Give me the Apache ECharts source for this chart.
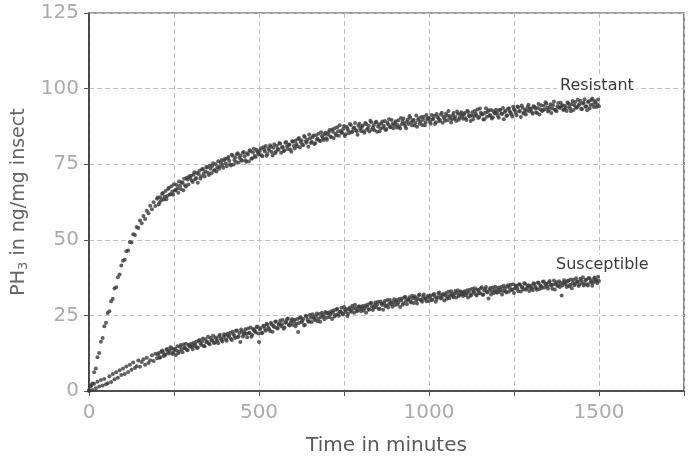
<!DOCTYPE html>
<html>
<head>
<meta charset="utf-8">
<script src="https://cdn.jsdelivr.net/npm/echarts@6/dist/echarts.min.js"></script>
<style>html,body{margin:0;padding:0;background:#fff}#c{width:694px;height:461px}</style>
</head>
<body>
<div id="c"></div>
<script>
// Sampling times (minutes), first pass
const times = [
0,5,10,15,20,25,30,35,40,45,50,55,60,65,70,75,80,85,90,95,
100,105,110,115,120,125,130,135,140,145,150,155,160,165,170,175,180,185,190,195,
200,205,210,215,220,225,230,235,240,245,250,255,260,265,270,275,280,285,290,295,
300,305,310,315,320,325,330,335,340,345,350,355,360,365,370,375,380,385,390,395,
400,405,410,415,420,425,430,435,440,445,450,455,460,465,470,475,480,485,490,495,
500,505,510,515,520,525,530,535,540,545,550,555,560,565,570,575,580,585,590,595,
600,605,610,615,620,625,630,635,640,645,650,655,660,665,670,675,680,685,690,695,
700,705,710,715,720,725,730,735,740,745,750,755,760,765,770,775,780,785,790,795,
800,805,810,815,820,825,830,835,840,845,850,855,860,865,870,875,880,885,890,895,
900,905,910,915,920,925,930,935,940,945,950,955,960,965,970,975,980,985,990,995,
1000,1005,1010,1015,1020,1025,1030,1035,1040,1045,1050,1055,1060,1065,1070,1075,1080,1085,1090,1095,
1100,1105,1110,1115,1120,1125,1130,1135,1140,1145,1150,1155,1160,1165,1170,1175,1180,1185,1190,1195,
1200,1205,1210,1215,1220,1225,1230,1235,1240,1245,1250,1255,1260,1265,1270,1275,1280,1285,1290,1295,
1300,1305,1310,1315,1320,1325,1330,1335,1340,1345,1350,1355,1360,1365,1370,1375,1380,1385,1390,1395,
1400,1405,1410,1415,1420,1425,1430,1435,1440,1445,1450,1455,1460,1465,1470,1475,1480,1485,1490,1495,
1500
];
const resistant = [
0.3,1.8,2.5,6.2,7.4,11.2,12.6,16.3,17.5,21.4,22.6,25.8,26.4,29.7,30.5,33.9,34.3,37.6,38.5,41.5,
43.1,43.4,46.2,46.5,49.3,49.1,51.8,51.6,54.2,53.9,56.4,55.5,57.9,56.9,59.6,58.8,61.3,60.1,62.4,61.2,
63.6,61.7,64.1,65.2,63.3,66.1,64.5,67.2,65.1,66.0,68.4,66.5,67.0,69.3,66.8,68.9,70.2,67.6,69.9,71.0,
71.2,69.1,72.3,70.4,68.9,72.8,71.0,73.4,70.9,74.1,72.2,74.6,72.0,75.3,73.1,72.6,76.0,74.2,76.4,73.8,
76.8,74.3,77.4,75.0,78.1,74.9,77.2,78.3,75.6,77.9,76.1,79.0,76.3,78.6,75.9,79.3,77.0,80.1,77.4,79.2,
78.2,80.3,77.6,79.9,81.0,78.4,79.5,80.8,77.9,81.6,79.2,80.1,82.0,78.8,80.7,79.6,82.3,80.0,81.4,79.1,
82.4,80.2,81.7,83.3,80.6,82.9,81.3,84.0,82.1,80.8,83.6,82.4,84.5,81.9,83.2,85.1,82.7,84.3,83.0,85.4,
83.1,85.6,84.2,86.5,83.7,85.1,87.2,84.4,86.0,85.3,87.6,84.9,86.8,85.2,88.0,85.8,87.1,86.3,84.7,88.4,
86.0,87.8,85.4,88.3,86.9,85.8,88.9,87.1,86.2,89.0,87.5,85.9,88.4,87.0,89.3,86.6,88.1,87.4,89.6,86.9,
88.7,87.1,89.5,86.8,88.2,90.1,87.6,89.0,88.3,90.4,87.9,89.7,88.6,87.4,90.2,89.1,88.0,90.7,88.8,89.9,
90.3,88.4,89.8,91.0,88.9,90.6,89.2,91.4,88.7,90.1,91.8,89.5,90.9,88.8,91.2,90.0,89.3,91.7,90.4,92.2,
90.0,91.9,89.6,92.3,90.8,91.2,89.9,92.6,91.0,90.3,93.4,91.5,89.8,92.0,90.7,92.8,91.3,90.1,92.5,91.8,
92.1,90.4,93.0,91.6,89.9,92.7,91.2,93.5,92.0,90.8,93.2,91.9,94.1,92.4,90.6,93.7,92.2,91.4,93.9,92.6,
93.3,91.7,94.0,92.2,93.6,91.4,94.5,92.8,93.1,95.0,92.4,93.9,91.9,94.6,93.0,92.5,95.2,93.6,94.2,92.9,
94.3,92.6,95.1,93.4,94.8,92.9,95.6,93.8,94.4,96.0,93.2,95.3,94.0,92.8,95.8,94.6,96.7,93.9,95.4,94.7,
94.2
];
const susceptible = [
0.0,1.6,0.3,2.4,0.9,3.1,1.5,3.6,1.8,4.0,2.2,2.6,4.9,3.0,5.6,3.9,6.2,4.4,6.9,5.3,
7.4,5.6,8.1,6.3,8.7,7.0,9.4,7.6,8.2,10.1,8.0,9.6,10.5,8.7,11.0,9.3,10.2,11.8,9.9,12.3,
10.8,12.6,11.2,13.4,11.6,12.1,13.9,12.4,14.5,12.2,13.7,11.9,14.8,13.1,15.2,12.8,14.3,15.6,13.5,14.9,
15.6,13.8,14.9,16.3,14.4,16.9,15.2,17.4,14.8,16.1,17.9,15.5,16.7,18.3,16.0,17.2,15.8,18.6,16.9,17.8,
18.4,16.6,17.9,19.3,16.9,18.8,17.5,20.0,18.1,16.2,19.6,18.7,20.4,17.8,19.1,21.0,18.5,20.2,19.4,21.3,
16.2,20.8,19.3,21.5,19.9,21.9,20.4,22.6,19.6,21.2,23.0,20.7,22.3,21.4,23.5,21.0,22.8,24.0,21.7,23.2,
21.8,23.6,22.2,19.5,24.1,22.7,23.9,21.9,24.6,23.0,25.2,22.8,24.4,23.5,25.6,24.0,22.9,25.9,24.7,26.1,
24.3,26.0,25.4,23.8,26.7,25.1,27.2,24.9,26.3,25.7,27.8,26.1,24.8,27.0,26.5,28.2,25.9,27.4,26.6,28.0,
26.4,28.1,27.3,25.9,28.6,27.0,29.2,26.8,28.4,27.7,29.5,27.2,28.9,26.9,29.8,28.3,27.6,30.1,28.7,29.4,
28.4,30.1,29.3,27.8,30.6,29.0,31.2,28.7,30.3,29.6,31.5,29.1,30.8,28.9,31.7,30.2,29.5,31.9,30.4,31.1,
29.8,31.6,30.2,32.1,29.5,31.0,32.6,30.6,31.9,29.9,32.4,31.3,30.7,33.0,31.5,32.2,30.9,33.3,31.8,32.7,
31.4,33.0,32.2,30.9,33.5,31.8,32.7,34.0,31.6,33.2,32.4,34.3,31.9,33.7,32.8,30.6,34.1,33.0,32.3,34.5,
32.5,34.2,33.4,31.9,34.8,33.0,34.5,32.8,35.1,33.6,32.4,34.9,33.8,35.3,32.9,34.3,35.6,33.5,34.7,33.1,
34.8,33.3,35.4,34.0,35.9,33.7,34.6,36.1,34.2,35.5,33.9,36.4,34.9,35.2,33.6,36.0,35.0,34.4,31.6,35.8,
35.9,34.4,36.5,35.1,34.0,36.8,35.5,36.2,34.7,37.1,35.8,34.9,36.6,35.3,37.4,36.0,34.8,37.0,36.3,35.6,
36.4
];
// Second, interleaved pass of readings (denser part of the record)
const timesB = [
202.5,207.5,212.5,217.5,222.5,227.5,232.5,237.5,242.5,247.5,252.5,257.5,262.5,267.5,272.5,277.5,282.5,287.5,292.5,297.5,
302.5,307.5,312.5,317.5,322.5,327.5,332.5,337.5,342.5,347.5,352.5,357.5,362.5,367.5,372.5,377.5,382.5,387.5,392.5,397.5,
402.5,407.5,412.5,417.5,422.5,427.5,432.5,437.5,442.5,447.5,452.5,457.5,462.5,467.5,472.5,477.5,482.5,487.5,492.5,497.5,
502.5,507.5,512.5,517.5,522.5,527.5,532.5,537.5,542.5,547.5,552.5,557.5,562.5,567.5,572.5,577.5,582.5,587.5,592.5,597.5,
602.5,607.5,612.5,617.5,622.5,627.5,632.5,637.5,642.5,647.5,652.5,657.5,662.5,667.5,672.5,677.5,682.5,687.5,692.5,697.5,
702.5,707.5,712.5,717.5,722.5,727.5,732.5,737.5,742.5,747.5,752.5,757.5,762.5,767.5,772.5,777.5,782.5,787.5,792.5,797.5,
802.5,807.5,812.5,817.5,822.5,827.5,832.5,837.5,842.5,847.5,852.5,857.5,862.5,867.5,872.5,877.5,882.5,887.5,892.5,897.5,
902.5,907.5,912.5,917.5,922.5,927.5,932.5,937.5,942.5,947.5,952.5,957.5,962.5,967.5,972.5,977.5,982.5,987.5,992.5,997.5,
1002.5,1007.5,1012.5,1017.5,1022.5,1027.5,1032.5,1037.5,1042.5,1047.5,1052.5,1057.5,1062.5,1067.5,1072.5,1077.5,1082.5,1087.5,1092.5,1097.5,
1102.5,1107.5,1112.5,1117.5,1122.5,1127.5,1132.5,1137.5,1142.5,1147.5,1152.5,1157.5,1162.5,1167.5,1172.5,1177.5,1182.5,1187.5,1192.5,1197.5,
1202.5,1207.5,1212.5,1217.5,1222.5,1227.5,1232.5,1237.5,1242.5,1247.5,1252.5,1257.5,1262.5,1267.5,1272.5,1277.5,1282.5,1287.5,1292.5,1297.5,
1302.5,1307.5,1312.5,1317.5,1322.5,1327.5,1332.5,1337.5,1342.5,1347.5,1352.5,1357.5,1362.5,1367.5,1372.5,1377.5,1382.5,1387.5,1392.5,1397.5,
1402.5,1407.5,1412.5,1417.5,1422.5,1427.5,1432.5,1437.5,1442.5,1447.5,1452.5,1457.5,1462.5,1467.5,1472.5,1477.5,1482.5,1487.5,1492.5,1497.5
];
const resistantB = [
64.0,62.3,63.1,65.5,64.2,63.4,66.8,65.0,67.7,64.9,66.3,68.1,65.6,67.9,69.0,66.4,68.0,70.5,68.3,70.4,
69.6,71.5,70.0,72.1,71.8,70.3,73.3,71.9,72.6,73.9,71.4,73.5,74.4,72.8,75.0,74.0,73.5,75.6,74.8,76.3,
75.2,76.9,76.1,74.6,77.8,76.4,75.7,78.6,77.1,76.5,78.8,77.6,75.8,78.2,79.6,76.8,78.9,77.7,79.8,78.5,
79.4,78.0,80.6,79.2,77.8,80.2,81.3,79.0,80.4,78.6,81.1,79.8,81.8,80.5,79.3,82.1,80.9,81.5,79.9,82.6,
81.0,82.8,80.9,83.7,82.3,81.6,84.3,82.6,83.1,84.8,82.0,83.9,81.7,84.6,83.4,82.8,85.6,83.7,84.9,83.6,
84.8,86.3,83.9,85.7,86.9,84.6,85.9,87.9,85.5,86.6,84.3,87.4,86.1,88.3,85.6,86.9,88.6,85.9,87.7,86.7,
87.3,85.9,88.6,86.4,87.7,89.4,86.5,87.9,88.8,85.7,88.2,86.9,89.1,87.6,86.3,88.7,89.9,87.2,88.3,88.0,
89.2,88.0,87.3,90.3,89.1,88.5,86.9,89.8,90.9,88.9,89.4,87.8,91.1,89.6,88.4,90.6,89.7,87.9,91.3,90.2,
89.0,91.3,90.0,88.3,91.6,90.2,89.6,92.0,90.8,89.4,91.0,92.6,90.3,89.9,91.9,90.6,92.4,89.7,91.5,90.9,
91.4,90.2,92.7,91.1,89.3,92.2,90.9,91.7,93.1,90.6,92.0,91.4,89.9,93.5,92.3,91.0,92.9,90.5,91.9,93.0,
91.0,92.9,91.8,93.6,92.3,90.9,93.3,92.5,91.5,94.0,92.8,91.2,93.8,92.6,94.4,91.8,93.1,92.7,94.7,93.4,
92.3,94.2,93.5,91.9,94.9,93.2,92.6,94.3,95.5,93.7,92.8,94.8,93.4,95.7,92.9,94.1,93.8,95.3,94.5,93.1,
93.6,95.4,94.1,92.5,95.9,94.5,93.7,96.3,94.9,93.3,95.1,96.5,94.2,95.6,93.5,96.2,94.8,95.9,93.9,96.4
];
const susceptibleB = [
12.1,11.0,13.0,12.8,11.9,13.6,12.9,13.3,14.1,12.7,14.0,13.4,12.5,14.6,13.8,15.4,14.2,13.6,15.3,14.6,
14.7,15.9,15.3,14.2,16.6,15.8,16.4,14.9,17.1,16.3,15.7,17.6,16.9,15.9,17.7,16.5,18.1,17.3,16.4,18.8,
17.1,18.9,18.3,17.3,19.6,18.2,19.9,17.8,19.2,20.3,18.0,19.4,18.9,20.7,19.3,17.9,20.5,19.8,21.1,19.0,
20.3,19.1,21.6,20.5,22.2,20.9,19.8,22.0,21.5,22.9,20.8,21.9,23.3,22.1,20.6,22.6,23.7,21.9,22.5,23.8,
22.9,21.4,23.8,22.5,24.4,23.2,21.7,24.9,23.6,22.9,24.2,25.4,23.8,24.8,23.1,25.5,24.4,25.1,23.7,25.8,
25.6,24.5,26.4,25.9,24.6,26.9,25.5,26.2,27.5,25.3,26.8,27.1,25.6,27.6,26.2,27.3,28.5,26.4,27.9,27.2,
27.6,26.6,28.3,27.9,26.9,29.0,28.0,27.5,29.3,28.6,27.1,29.6,28.4,29.0,28.0,30.1,28.8,29.3,27.9,30.3,
29.5,28.6,30.4,29.9,28.5,30.9,29.8,30.2,31.0,29.3,30.6,31.3,29.9,30.5,31.9,30.0,31.2,30.7,29.7,31.5,
30.9,30.1,31.8,31.2,30.4,32.3,31.4,30.8,32.0,31.6,30.5,32.8,31.7,32.1,31.0,33.1,32.4,31.4,32.9,32.0,
32.6,31.7,33.3,32.5,31.5,33.8,32.9,32.0,33.6,32.3,33.9,31.8,33.2,34.4,32.6,33.5,31.9,34.2,33.4,32.8,
33.6,32.7,34.4,33.1,34.0,32.6,35.0,34.1,33.4,35.3,33.9,34.6,33.0,35.2,34.4,33.6,35.5,34.0,35.0,34.2,
34.0,35.6,34.5,33.5,35.7,34.9,34.1,36.2,35.3,34.6,36.0,35.1,33.8,36.5,35.4,34.7,36.3,35.6,34.9,36.6,
35.3,36.3,34.6,36.9,35.7,35.0,37.3,36.1,35.2,36.6,37.6,35.5,36.9,34.9,37.2,36.4,35.8,37.5,36.7,37.8
];
const xTicks = [0, 500, 1000, 1500];
const seriesNames = ['Resistant', 'Susceptible'];

const pairs = (ts, ys) => ts.map((t, i) => [t, ys[i]]);
const chart = echarts.init(document.getElementById('c'), null, {renderer: 'canvas'});
const FONT = '"DejaVu Sans", Arial, sans-serif';
chart.setOption({
  animation: false,
  backgroundColor: '#fff',
  grid: {left: 89, right: 10, top: 13, bottom: 60, show: true, borderColor: '#333', borderWidth: 1.2, backgroundColor: 'transparent'},
  xAxis: {
    type: 'value', min: 0, max: 1750, interval: 250,
    name: 'Time in minutes', nameLocation: 'middle', nameGap: 45,
    nameTextStyle: {fontFamily: FONT, fontSize: 20, color: '#5a5a5a'},
    axisLine: {show: true, lineStyle: {color: '#333', width: 1.5}},
    axisTick: {show: true, length: 5, lineStyle: {color: '#555'}},
    axisLabel: {fontFamily: FONT, fontSize: 20, color: '#ababab', margin: 12,
      formatter: v => xTicks.includes(v) ? String(v) : ''},
    splitLine: {show: true, lineStyle: {color: '#c2c2c2', type: [5, 3], width: 1}}
  },
  yAxis: {
    type: 'value', min: 0, max: 125, interval: 25,
    name: 'PH{sub|3} in ng/mg insect', nameLocation: 'middle', nameGap: 51,
    nameTextStyle: {fontFamily: FONT, fontSize: 19, color: '#666',
      rich: {sub: {fontFamily: FONT, fontSize: 13, color: '#666', verticalAlign: 'bottom', padding: [8, 0, 0, 0]}}},
    axisLine: {show: true, lineStyle: {color: '#333', width: 1.5}},
    axisTick: {show: true, length: 5, lineStyle: {color: '#555'}},
    axisLabel: {fontFamily: FONT, fontSize: 20, color: '#ababab', margin: 10},
    splitLine: {show: true, lineStyle: {color: '#c2c2c2', type: [5, 3], width: 1}}
  },
  series: [
    {name: seriesNames[0], type: 'scatter',
     data: pairs(times, resistant).concat(pairs(timesB, resistantB)), symbolSize: 4,
     itemStyle: {color: '#3a3a3a'}},
    {name: seriesNames[1], type: 'scatter',
     data: pairs(times, susceptible).concat(pairs(timesB, susceptibleB)), symbolSize: 4,
     itemStyle: {color: '#3a3a3a'}}
  ],
  graphic: [
    {type: 'text', left: 557, top: 76, z: 100,
     style: {text: seriesNames[0], font: '16px ' + FONT, fill: '#3a3a3a', backgroundColor: '#fff', padding: [2, 3]}},
    {type: 'text', left: 553, top: 255, z: 100,
     style: {text: seriesNames[1], font: '16px ' + FONT, fill: '#3a3a3a', backgroundColor: '#fff', padding: [2, 3]}}
  ]
});
</script>
</body>
</html>
